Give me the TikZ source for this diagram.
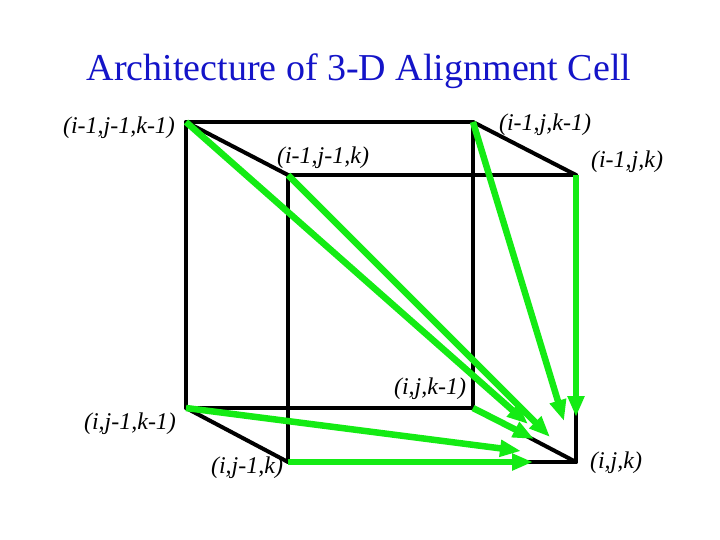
\documentclass[tikz,border=0pt]{standalone}
\usepackage{fontspec}
\setmainfont{Liberation Serif}
\usetikzlibrary{arrows.meta}
\definecolor{titleblue}{RGB}{20,20,200}
\definecolor{arrgreen}{RGB}{20,235,20}
\tikzset{
  edge/.style={black,line width=4pt,line cap=round,line join=round},
  garrow/.style={arrgreen,line width=6.5pt,-{Triangle[length=21pt,width=16pt]}},
  lbl/.style={font=\fontsize{24}{26}\selectfont\itshape,inner sep=0pt},
}
\begin{document}
\begin{tikzpicture}[x=1pt,y=-1pt]
\useasboundingbox (0,0) rectangle (720,540);
\fill[white] (0,0) rectangle (720,540);
\node[font=\fontsize{38}{40}\selectfont,text=titleblue] (title) at (359,71) {Architecture of 3-D Alignment Cell};
% corners
\coordinate (btl) at (186,122);
\coordinate (btr) at (473,122);
\coordinate (ftl) at (288,175);
\coordinate (ftr) at (576,175);
\coordinate (bbl) at (186,408);
\coordinate (bbr) at (473,408);
\coordinate (fbl) at (288,462);
\coordinate (fbr) at (576,462);
% edges
\draw[edge] (btl) -- (btr) -- (bbr) -- (bbl) -- cycle;
\draw[edge] (ftl) -- (ftr) -- (fbr) -- (fbl) -- cycle;
\draw[edge] (btl) -- (ftl);
\draw[edge] (btr) -- (ftr);
\draw[edge] (bbl) -- (fbl);
\draw[edge] (bbr) -- (fbr);
% arrow tips
\coordinate (t1) at (528,424);
\coordinate (t2) at (550,437);
\coordinate (t3) at (564,421);
\coordinate (t4) at (576,417);
\coordinate (t5) at (534,439);
\coordinate (t6) at (521,451);
\coordinate (t7) at (533,462);
\draw[garrow] (btl) -- (t1);
\draw[garrow] (ftl) -- (t2);
\draw[garrow] (btr) -- (t3);
\draw[garrow] (ftr) -- (t4);
\draw[garrow] (bbr) -- (t5);
\draw[garrow] (bbl) -- (t6);
\draw[garrow] (fbl) -- (t7);
% labels
\node[lbl] (l1) at (119,128) {(i-1,j-1,k-1)};
\node[lbl] (l2) at (545,125) {(i-1,j,k-1)};
\node[lbl] (l3) at (323,158) {(i-1,j-1,k)};
\node[lbl] (l4) at (627,162) {(i-1,j,k)};
\node[lbl] (l5) at (430,389) {(i,j,k-1)};
\node[lbl] (l6) at (130,424) {(i,j-1,k-1)};
\node[lbl] (l7) at (247,468) {(i,j-1,k)};
\node[lbl] (l8) at (616,463) {(i,j,k)};
\end{tikzpicture}
\end{document}
